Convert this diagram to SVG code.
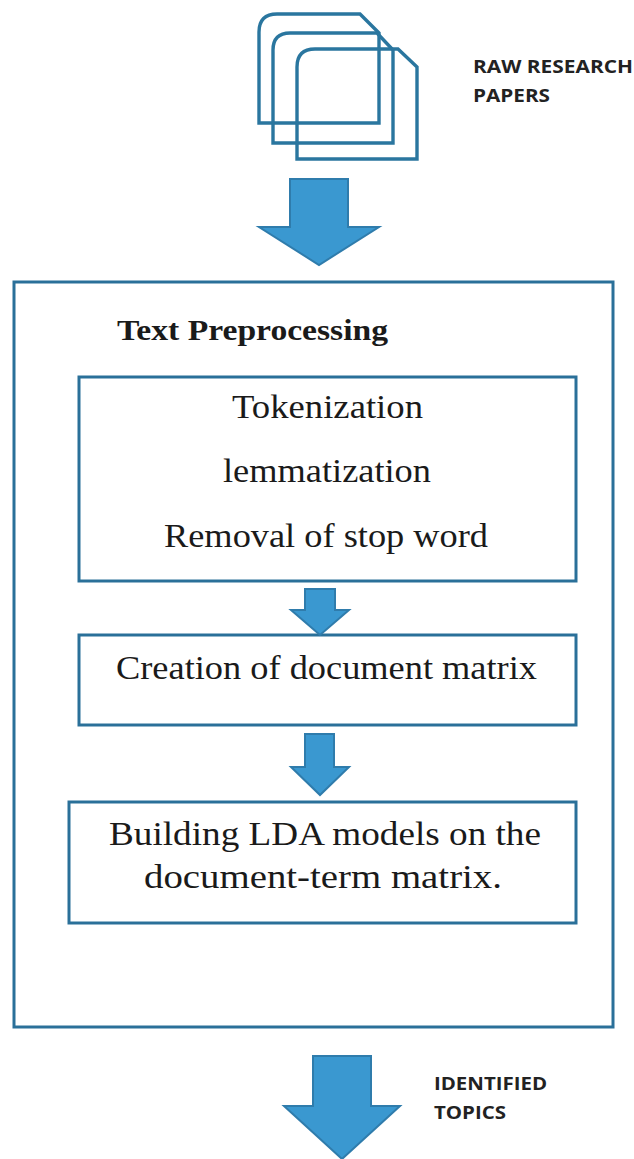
<svg xmlns="http://www.w3.org/2000/svg" width="634" height="1159" viewBox="0 0 634 1159">
<style>
.box{fill:#fff;stroke:#2a7099;stroke-width:3}
.doc{fill:none;stroke:#2a769f;stroke-width:3.4}
.arrow{fill:#3a98d0;stroke:#2f7cac;stroke-width:2}
.s{font-family:"Liberation Serif",serif;fill:#1a1a1a}
.l{font-family:"Open Sans","Liberation Sans",sans-serif;font-size:17px;font-weight:bold;fill:#222}
</style>
<rect width="634" height="1159" fill="#fff"/>
<g id="papers">
<path class="doc" d="M277 14H360L379 33V123H259V32Q259 14 277 14Z"/>
<path class="doc" d="M290 33H377L393 50V143H273V50Q273 33 290 33Z"/>
<path class="doc" d="M315 49H398L417 67V159H297V67Q297 49 315 49Z"/>
</g>
<g id="papers-label"><text class="l" x="473" y="73" textLength="160" lengthAdjust="spacingAndGlyphs">RAW RESEARCH</text><text class="l" x="473" y="102" textLength="77" lengthAdjust="spacingAndGlyphs">PAPERS</text></g>
<g id="outer"><rect class="box" x="14" y="282" width="599" height="745"/><text class="s" x="117" y="340" font-size="29" font-weight="bold" textLength="271" lengthAdjust="spacingAndGlyphs">Text Preprocessing</text></g>
<g id="preprocess"><rect class="box" x="79" y="377" width="497" height="204"/>
<text class="s" x="232" y="418" font-size="33" textLength="191" lengthAdjust="spacingAndGlyphs">Tokenization</text>
<text class="s" x="223" y="482" font-size="33" textLength="208" lengthAdjust="spacingAndGlyphs">lemmatization</text>
<text class="s" x="164" y="547" font-size="33" textLength="324" lengthAdjust="spacingAndGlyphs">Removal of stop word</text></g>
<g id="matrix"><rect class="box" x="79" y="635" width="497" height="90"/><text class="s" x="116" y="679" font-size="33" textLength="421" lengthAdjust="spacingAndGlyphs">Creation of document matrix</text></g>
<g id="lda"><rect class="box" x="69" y="802" width="507" height="121"/>
<text class="s" x="109" y="845" font-size="33" textLength="432" lengthAdjust="spacingAndGlyphs">Building LDA models on the</text>
<text class="s" x="144" y="888" font-size="33" textLength="358" lengthAdjust="spacingAndGlyphs">document-term matrix.</text></g>
<g id="connectors">
<path class="arrow" d="M290 179H348V227H379L319 265L259 227H290Z"/>
<path class="arrow" d="M305 589H335V610H349L320 635L291 610H305Z"/>
<path class="arrow" d="M305 734H334V767H349L320 795L291 767H305Z"/>
<path class="arrow" d="M313 1056H371V1106H400L342 1159L284 1106H313Z"/>
</g>
<g id="topics-label"><text class="l" x="434" y="1090" textLength="113" lengthAdjust="spacingAndGlyphs">IDENTIFIED</text><text class="l" x="434" y="1119" textLength="72" lengthAdjust="spacingAndGlyphs">TOPICS</text></g>
</svg>
